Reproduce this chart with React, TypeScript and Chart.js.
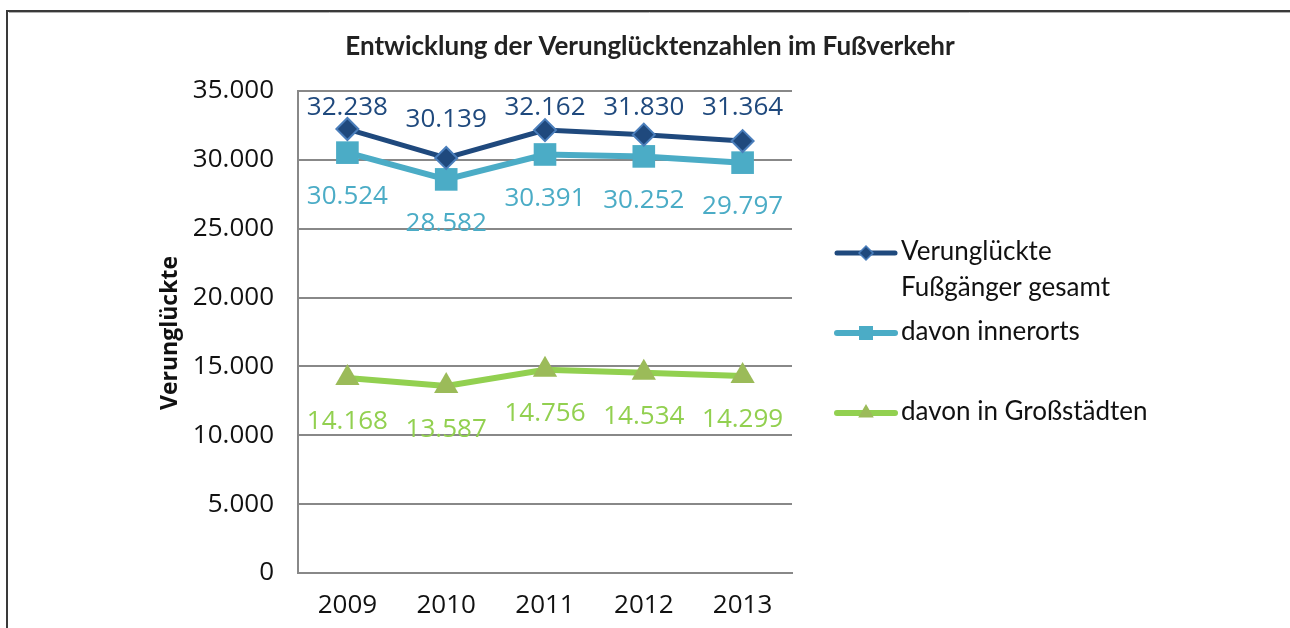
import React, { useEffect, useRef } from "react";
import { Chart, registerables } from "chart.js";

Chart.register(...registerables);

const chartTitle = "Entwicklung der Verunglücktenzahlen im Fußverkehr";
const yAxisTitle = "Verunglückte";
const categories = ["2009", "2010", "2011", "2012", "2013"];
const seriesGesamt = [32238, 30139, 32162, 31830, 31364];
const seriesInnerorts = [30524, 28582, 30391, 30252, 29797];
const seriesGrossstaedte = [14168, 13587, 14756, 14534, 14299];
const seriesLabels = [
  ["Verunglückte", "Fußgänger gesamt"],
  ["davon innerorts"],
  ["davon in Großstädten"],
];
const yMin = 0;
const yMax = 35000;
const yStep = 5000;

const DARK = "#1F497D";
const DARK_EDGE = "#4A7EBB";
const LIGHT = "#4BACC6";
const GREEN = "#92D050";
const GREEN_MARK = "#9BBB59";

const fmt = (v: number) => {
  const s = Math.round(v).toString();
  return s.replace(/\B(?=(\d{3})+(?!\d))/g, ".");
};

function drawMarker(ctx: CanvasRenderingContext2D, kind: string, x: number, y: number, r: number, fill: string, stroke: string, lw: number) {
  ctx.save();
  ctx.beginPath();
  if (kind === "diamond") {
    ctx.moveTo(x, y - r);
    ctx.lineTo(x + r, y);
    ctx.lineTo(x, y + r);
    ctx.lineTo(x - r, y);
    ctx.closePath();
  } else if (kind === "square") {
    ctx.rect(x - r, y - r, 2 * r, 2 * r);
  } else {
    const h = r * 1.5;
    const w = r * Math.sqrt(3);
    ctx.moveTo(x, y - r);
    ctx.lineTo(x + w / 2, y - r + h);
    ctx.lineTo(x - w / 2, y - r + h);
    ctx.closePath();
  }
  ctx.fillStyle = fill;
  ctx.fill();
  if (lw > 0) {
    ctx.strokeStyle = stroke;
    ctx.lineWidth = lw;
    ctx.stroke();
  }
  ctx.restore();
}

const decorPlugin = {
  id: "decor",
  beforeDraw(chart: any) {
    const ctx = chart.ctx as CanvasRenderingContext2D;
    ctx.save();
    ctx.fillStyle = "#ffffff";
    ctx.fillRect(0, 0, chart.width, chart.height);
    // frame
    ctx.strokeStyle = "#3a3a3a";
    ctx.lineWidth = 2;
    ctx.beginPath();
    ctx.moveTo(7, chart.height);
    ctx.lineTo(7, 11);
    ctx.lineTo(chart.width, 11);
    ctx.stroke();
    ctx.strokeStyle = "#b0b0b0";
    ctx.lineWidth = 1;
    ctx.beginPath();
    ctx.moveTo(9, 12.5);
    ctx.lineTo(chart.width, 12.5);
    ctx.stroke();
    ctx.restore();
  },
  afterDraw(chart: any) {
    const ctx = chart.ctx as CanvasRenderingContext2D;
    const area = chart.chartArea;
    ctx.save();
    // title
    ctx.fillStyle = "#222222";
    ctx.font = "bold 26px Lato";
    ctx.textAlign = "center";
    ctx.textBaseline = "middle";
    ctx.fillText(chartTitle, 650, 47);
    // y axis title
    ctx.save();
    ctx.translate(170, 333);
    ctx.rotate(-Math.PI / 2);
    ctx.font = "bold 23px 'Open Sans'";
    ctx.fillStyle = "#111111";
    ctx.fillText(yAxisTitle, 0, 0);
    ctx.restore();

    // data labels
    ctx.font = "26px 'Open Sans'";
    ctx.textAlign = "center";
    ctx.textBaseline = "middle";
    chart.data.datasets.forEach((ds: any, i: number) => {
      const meta = chart.getDatasetMeta(i);
      meta.data.forEach((pt: any, j: number) => {
        const v = ds.data[j];
        let y: number;
        if (i === 0) y = Math.max(pt.y - 38, area.top + 17);
        else y = pt.y + 44;
        ctx.fillStyle = ds.labelColor;
        ctx.fillText(fmt(v), pt.x, y);
      });
    });

    // legend
    const legendRows = [
      { y: 253, kind: "diamond", r: 7, line: DARK, fill: DARK, stroke: DARK_EDGE, lw: 1.5, lineW: 5 },
      { y: 333, kind: "square", r: 7, line: LIGHT, fill: LIGHT, stroke: LIGHT, lw: 0, lineW: 6 },
      { y: 413, kind: "triangle", r: 9, line: GREEN, fill: GREEN_MARK, stroke: GREEN_MARK, lw: 0, lineW: 6 },
    ];
    legendRows.forEach((row, i) => {
      ctx.strokeStyle = row.line;
      ctx.lineWidth = row.lineW;
      ctx.lineCap = "round";
      ctx.beginPath();
      ctx.moveTo(837, row.y);
      ctx.lineTo(895, row.y);
      ctx.stroke();
      drawMarker(ctx, row.kind, 866, row.y, row.r, row.fill, row.stroke, row.lw);
      ctx.fillStyle = "#111111";
      ctx.font = "26px Lato";
      ctx.textAlign = "left";
      ctx.textBaseline = "middle";
      seriesLabels[i].forEach((t, k) => {
        ctx.fillText(t, 901, row.y - 1 + k * 36);
      });
    });
    ctx.restore();
  },
};

export default function App() {
  const ref = useRef<HTMLCanvasElement | null>(null);
  useEffect(() => {
    if (!ref.current) return;
    const chart = new Chart(ref.current, {
      type: "line",
      data: {
        labels: categories,
        datasets: [
          {
            label: seriesLabels[0].join(" "),
            data: seriesGesamt,
            borderColor: DARK,
            borderWidth: 5,
            pointStyle: "rectRot",
            pointRadius: 11,
            pointBackgroundColor: DARK,
            pointBorderColor: DARK_EDGE,
            pointBorderWidth: 2,
            labelColor: DARK,
          } as any,
          {
            label: seriesLabels[1].join(" "),
            data: seriesInnerorts,
            borderColor: LIGHT,
            borderWidth: 6,
            pointStyle: "rect",
            pointRadius: 16,
            pointBackgroundColor: LIGHT,
            pointBorderColor: LIGHT,
            pointBorderWidth: 0,
            labelColor: LIGHT,
          } as any,
          {
            label: seriesLabels[2].join(" "),
            data: seriesGrossstaedte,
            borderColor: GREEN,
            borderWidth: 6,
            pointStyle: "triangle",
            pointRadius: 14,
            pointBackgroundColor: GREEN_MARK,
            pointBorderColor: GREEN_MARK,
            pointBorderWidth: 0,
            labelColor: GREEN,
          } as any,
        ],
      },
      options: {
        animation: false,
        responsive: false,
        devicePixelRatio: 1,
        layout: { padding: { left: 0, right: 498, top: 91, bottom: 0 } },
        plugins: {
          legend: { display: false },
          title: { display: false },
          tooltip: { enabled: false },
        },
        elements: { line: { tension: 0 } },
        scales: {
          x: {
            offset: true,
            grid: { display: false, drawTicks: false },
            border: { display: true, color: "#888888", width: 2 },
            ticks: {
              color: "#111111",
              font: { family: "'Open Sans'", size: 26 },
              padding: 17,
            },
            afterFit: (scale: any) => {
              scale.height = 55;
            },
          },
          y: {
            min: yMin,
            max: yMax,
            grid: { color: "#888888", lineWidth: 2, drawTicks: false },
            border: { display: true, color: "#888888", width: 2 },
            ticks: {
              stepSize: yStep,
              color: "#111111",
              font: { family: "'Open Sans'", size: 26 },
              padding: 24,
              callback: (v: any) => fmt(Number(v)),
            },
            afterFit: (scale: any) => {
              scale.width = 298;
            },
          },
        },
      } as any,
      plugins: [decorPlugin],
    });
    return () => chart.destroy();
  }, []);
  return (
    <div style={{ position: "fixed", left: 0, top: 0, width: 1290, height: 628, background: "#fff" }}>
      <canvas ref={ref} width={1290} height={628} style={{ display: "block" }} />
    </div>
  );
}
